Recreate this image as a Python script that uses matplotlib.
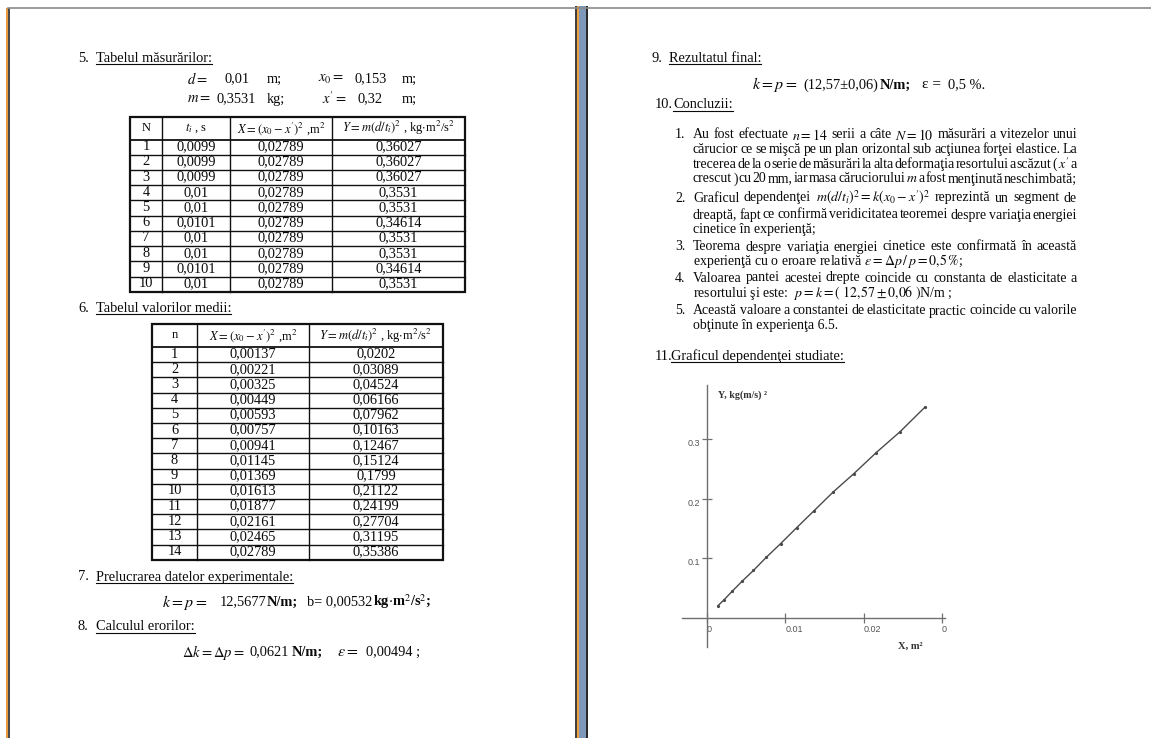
import matplotlib
matplotlib.use('Agg')
import matplotlib.pyplot as plt
from matplotlib.patches import Rectangle

plt.rcParams['font.family'] = ['Liberation Serif', 'DejaVu Serif']
plt.rcParams['mathtext.fontset'] = 'stix'

# ---------------- data ----------------
N_idx = [str(i) for i in range(1, 11)]
t_vals = ['0,0099', '0,0099', '0,0099', '0,01', '0,01', '0,0101', '0,01', '0,01', '0,0101', '0,01']
X_single = ['0,02789'] * 10
Y_single = ['0,36027', '0,36027', '0,36027', '0,3531', '0,3531', '0,34614',
            '0,3531', '0,3531', '0,34614', '0,3531']

n_idx = [str(i) for i in range(1, 15)]
X_mean = ['0,00137', '0,00221', '0,00325', '0,00449', '0,00593', '0,00757', '0,00941',
          '0,01145', '0,01369', '0,01613', '0,01877', '0,02161', '0,02465', '0,02789']
Y_mean = ['0,0202', '0,03089', '0,04524', '0,06166', '0,07962', '0,10163', '0,12467',
          '0,15124', '0,1799', '0,21122', '0,24199', '0,27704', '0,31195', '0,35386']

x_ticks = [0, 0.01, 0.02, 0.03]
x_tick_labels = ['0', '0.01', '0.02', '0']
y_ticks = [0.1, 0.2, 0.3]
y_tick_labels = ['0.1', '0.2', '0.3']

# ---------------- figure ----------------
W, H = 1151, 738
fig = plt.figure(figsize=(W / 100, H / 100), dpi=100)
fig.patch.set_facecolor('white')
ax = fig.add_axes([0, 0, 1, 1])
ax.set_xlim(0, W)
ax.set_ylim(H, 0)
ax.axis('off')
renderer = fig.canvas.get_renderer()

TXT = '#0a0a0a'
BODY = 10.4
PARA = 10.0
CELL = 10.4


def text(x, y, s, size=BODY, ha='left', **kw):
    color = kw.pop('color', TXT)
    return ax.text(x, y, s, fontsize=size, ha=ha, va='center', color=color, **kw)


def bbox(t):
    return t.get_window_extent(renderer=renderer)


def tokens_of(line):
    parts = line.split(' ')
    toks, cur = [], None
    for p in parts:
        cur = p if cur is None else cur + ' ' + p
        if cur.count('$') % 2 == 0:
            toks.append(cur)
            cur = None
    if cur is not None:
        toks.append(cur)
    return [t for t in toks if t != '']


def justify(line, x0, x1, y, size=PARA):
    toks = tokens_of(line)
    while True:
        ts = [text(x0, y, tk, size) for tk in toks]
        ws = [bbox(t).width for t in ts]
        gap = (x1 - x0 - sum(ws)) / max(len(ts) - 1, 1)
        if gap >= 0.9 or size < 8:
            break
        for t in ts:
            t.remove()
        size -= 0.1
    x = x0
    for t, w in zip(ts, ws):
        t.set_x(x)
        x += w + gap


def heading(num, x_num, x_txt, y, s, size=BODY):
    text(x_num, y, num, size)
    t = text(x_txt, y, s, size)
    b = bbox(t)
    ax.plot([b.x0, b.x1], [y + 5.5, y + 5.5], color=TXT, lw=0.8)


# ---------------- page decoration ----------------
ax.plot([8, W], [7.5, 7.5], color='#8a8a8a', lw=1.2)
ax.add_patch(Rectangle((6.5, 8), 2, H, color='#e89a3c', lw=0))
ax.add_patch(Rectangle((8.5, 8), 1.6, H, color='#4a4a4a', lw=0))
ax.add_patch(Rectangle((575.5, 6), 2, H, color='#404040', lw=0))
ax.add_patch(Rectangle((577.5, 6), 1.6, H, color='#eea040', lw=0))
ax.add_patch(Rectangle((579, 6), 7.2, H, color='#7e98ba', lw=0))
ax.add_patch(Rectangle((586, 6), 2, H, color='#2a2a2a', lw=0))


# ---------------- tables ----------------
def table(cols, top, hdr_bot, rh, header, columns, size=CELL, hsize=9.0):
    nrows = len(columns[0])
    bottom = hdr_bot + nrows * rh
    ax.add_patch(Rectangle((cols[0], top), cols[-1] - cols[0], bottom - top,
                           fill=False, lw=1.6, ec='#111111'))
    for c in cols[1:-1]:
        ax.plot([c, c], [top, bottom], color='#111111', lw=1.0)
    ax.plot([cols[0], cols[-1]], [hdr_bot, hdr_bot], color='#111111', lw=1.3)
    for i in range(1, nrows):
        yy = hdr_bot + i * rh
        ax.plot([cols[0], cols[-1]], [yy, yy], color='#111111', lw=1.0)
    for j, h in enumerate(header):
        text((cols[j] + cols[j + 1]) / 2, (top + hdr_bot) / 2, h, hsize, ha='center')
    for j, col in enumerate(columns):
        for i, v in enumerate(col):
            text((cols[j] + cols[j + 1]) / 2, hdr_bot + (i + 0.5) * rh - 0.5, v, size, ha='center')


hdrX = r"$\mathbf{\mathit{X}}=(x_0-x')^2$ ,m$^2$"
hdrY = r"$\mathbf{\mathit{Y}}=m(d/t_i)^2$ , kg$\cdot$m$^2$/s$^2$"

# ---------------- left page ----------------
heading('5.', 78, 96, 58, 'Tabelul măsurărilor:')
text(187, 79, r'$\mathbf{\mathit{d}}=$', 10.5)
text(225, 79, '0,01', CELL)
text(267, 79, 'm;', CELL)
text(318, 79, r'$x_0=$', 10.5)
text(355, 79, '0,153', CELL)
text(402, 79, 'm;', CELL)
text(187, 99, r'$\mathbf{\mathit{m}}=$', 10.5)
text(217, 99, '0,3531', CELL)
text(267, 99, 'kg;', CELL)
text(322, 99, r"$x'=$", 10.5)
text(358, 99, '0,32', CELL)
text(402, 99, 'm;', CELL)

table([130, 162, 230, 332, 465], 117, 139.5, 15.23,
      ['N', r'$t_i$ , s', hdrX, hdrY],
      [N_idx, t_vals, X_single, Y_single])

heading('6.', 78, 96, 308, 'Tabelul valorilor medii:')
table([152, 197, 309, 443], 324, 347, 15.2,
      ['n', hdrX, hdrY],
      [n_idx, X_mean, Y_mean])

heading('7.', 78, 96, 577, 'Prelucrarea datelor experimentale:')
text(162, 602, r'$k=p=$', 11.5)
text(220, 602, '12,5677', CELL)
text(267, 602, 'N/m;', 10.4, fontweight='bold')
text(307, 602, 'b= 0,00532', CELL)
text(373, 602, r'kg$\cdot$m$^2$/s$^2$;', 10.4, fontweight='bold')

heading('8.', 78, 96, 627, 'Calculul erorilor:')
text(182, 652, r'$\Delta k=\Delta p=$', 10.5)
text(250, 652, '0,0621', CELL)
text(292, 652, 'N/m;', 10.4, fontweight='bold')
text(337, 652, r'$\varepsilon=$', 11.5)
text(366, 652, '0,00494 ;', CELL)

# ---------------- right page ----------------
heading('9.', 652, 669, 58, 'Rezultatul final:')
text(752, 85, r'$k=p=$', 11.5)
text(803, 85, '(12,57±0,06)', CELL)
text(880, 85, 'N/m;', 10.4, fontweight='bold')
text(922, 85, 'ε =', 11)
text(948, 85, '0,5 %.', CELL)

heading('10.', 655, 673, 105, 'Concluzii:')

XL, XR = 693, 1077
items = [
    ('1.', [(r"Au fost efectuate $n=14$ serii a câte $N=10$ măsurări a vitezelor unui", True, 135),
            ("cărucior ce se mişcă pe un plan orizontal sub acţiunea forţei elastice. La", True, 149.5),
            (r"trecerea de la o serie de măsurări la alta deformaţia resortului a scăzut ( $x'$ a", True, 164),
            (r"crescut ) cu 20 mm, iar masa căruciorului $m$ a fost menţinută neschimbată;", True, 179)]),
    ('2.', [(r"Graficul dependenţei $m(d/t_i)^2=k(x_0-x')^2$ reprezintă un segment de", True, 198),
            ("dreaptă, fapt ce confirmă veridicitatea teoremei despre variaţia energiei", True, 215),
            ("cinetice în experienţă;", False, 230)]),
    ('3.', [("Teorema despre variaţia energiei cinetice este confirmată în această", True, 247),
            (r"experienţă cu o eroare relativă $\varepsilon=\Delta p\,/\,p=0{,}5\,\%$;", False, 261)]),
    ('4.', [("Valoarea pantei acestei drepte coincide cu constanta de elasticitate a", True, 278),
            (r"resortului şi este:  $p=k=(\ 12{,}57\pm0{,}06\ )$N/m ;", False, 293)]),
    ('5.', [("Această valoare a constantei de elasticitate practic coincide cu valorile", True, 311),
            ("obţinute în experienţa 6.5.", False, 325)]),
]
for num, lines in items:
    text(675, lines[0][2], num, PARA)
    for s, just, yy in lines:
        if just:
            justify(s, XL, XR, yy)
        else:
            text(XL, yy, s, PARA)

heading('11.', 655, 671, 356, 'Graficul dependenţei studiate:')

# ---------------- chart ----------------
X_num = [float(v.replace(',', '.')) for v in X_mean]
Y_num = [float(v.replace(',', '.')) for v in Y_mean]

px0, px1, py_top, py_bot = 680, 952, 380, 652
x_zero, x_scale = 707, 7830.0   # px, px per unit
y_zero, y_scale = 618, 597.0
ax2 = fig.add_axes([px0 / W, (H - py_bot) / H, (px1 - px0) / W, (py_bot - py_top) / H])
ax2.patch.set_alpha(0)
ax2.set_xlim((px0 - x_zero) / x_scale, (px1 - x_zero) / x_scale)
ax2.set_ylim((y_zero - py_bot) / y_scale, (y_zero - py_top) / y_scale)
for s in ['top', 'right']:
    ax2.spines[s].set_visible(False)
ax2.spines['left'].set_position(('data', 0))
ax2.spines['bottom'].set_position(('data', 0))
ax2.spines['left'].set_bounds((y_zero - 647) / y_scale, (y_zero - 385) / y_scale)
ax2.spines['bottom'].set_bounds((682 - x_zero) / x_scale, (945 - x_zero) / x_scale)
for s in ['left', 'bottom']:
    ax2.spines[s].set_color('#707070')
    ax2.spines[s].set_linewidth(1.0)
ax2.set_xticks(x_ticks)
ax2.set_xticklabels(x_tick_labels)
ax2.set_yticks(y_ticks)
ax2.set_yticklabels(y_tick_labels)
ax2.tick_params(direction='inout', length=7, width=0.9, color='#707070',
                labelsize=6.5, labelcolor='#555555', pad=1.5)
for lab in ax2.get_xticklabels():
    lab.set_ha('left')
    lab.set_fontfamily('Liberation Sans')
for lab in ax2.get_yticklabels():
    lab.set_va('top')
    lab.set_fontfamily('Liberation Sans')
ax2.plot(X_num, Y_num, color='#4a4a4a', lw=1.0, marker='o', ms=1.3,
         solid_capstyle='round')

text(718, 395, 'Y, kg(m/s) ²', 7.2, color='#333333', fontweight='bold')
text(898, 646, 'X, m²', 7.6, color='#333333', fontweight='bold')

fig.savefig('out.png', dpi=100)
